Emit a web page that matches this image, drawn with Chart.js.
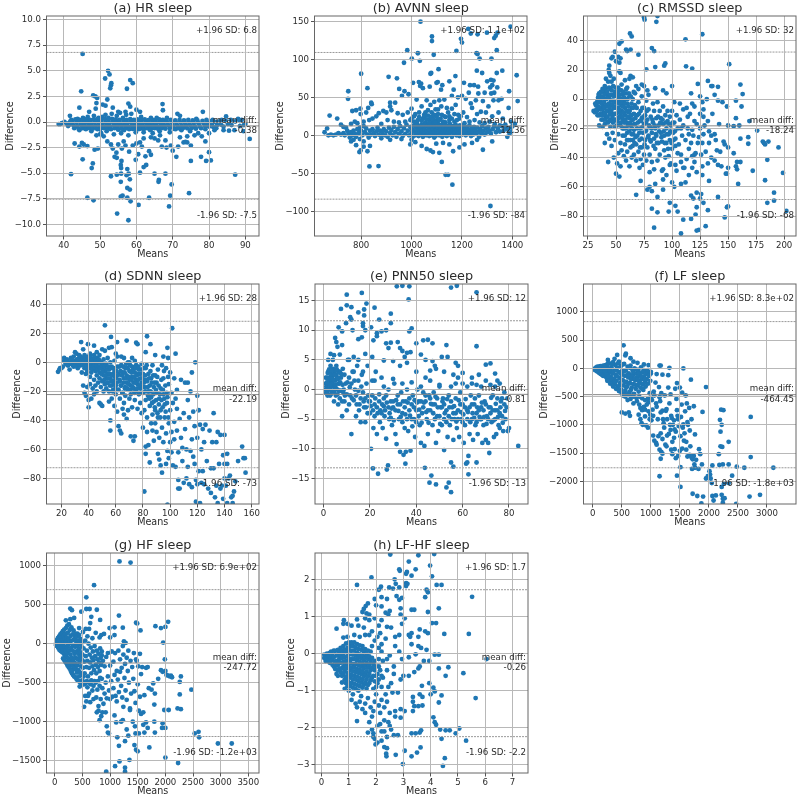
<!DOCTYPE html>
<html>
<head>
<meta charset="utf-8">
<title>Bland-Altman sleep</title>
<script src="https://cdn.jsdelivr.net/npm/chart.js@4"></script>
<style>
html, body { margin: 0; padding: 0; background: #fff; }
#wrap { position: relative; width: 800px; height: 798px; overflow: hidden; }
canvas { position: absolute; }
</style>
</head>
<body>
<div id="wrap"></div>
<script>
// ========== DATA (means, difference) ==========
const hrPoints = [
[45.2,6.65],[52.2,5],[52.6,4.65],[51.4,4.25],[53.1,3.8],[53,3.6],[52.8,3.3],[44.8,3],[58.3,4.1],[59,3.8],[57.4,3.25],[48.1,2.6],[48.7,2.5],[49.2,2.35],[52,2.2],[49,1.85],[50.7,1.7],[51.5,1.6],[57.8,1.8],[58.3,1.5],[67.2,1.75],[67.3,1.15],[44.3,1.4],[48.8,1.3],[53.5,1.4],[60,1.2],[61,1],[47,1],[55,1],[57,1],[41.7,.6],[78.3,1],[84.7,.55],[71.3,.8],[72,.6],[38.6,-.2],[39,-.2],[39.5,-.1],[40.2,0],
[42,-5.1],[43,-2.1],[44.3,-2.4],[45,-2.05],[45.5,-2.2],[46.5,-2.35],[48.5,-2.7],[49.4,-2.6],[45.2,-3.65],[48,-4.05],[47.7,-4.5],[46.5,-7.4],[48.2,-7.65],[53,-5.3],[54.6,-5.15],[55.7,-4.2],[55.8,-4.5],[55.8,-5.05],[55.7,-5.85],[54,-3.4],[54.5,-3],[54.6,-3.5],[55.9,-3.8],[57.3,-5.2],[57.5,-4.6],[57.9,-5.05],[58.2,-5.6],[57.5,-6.45],[58.2,-6.6],[57.5,-7.4],[55.7,-7.3],[56.2,-7.2],[58.4,-7.75],[54.7,-8.95],[57.8,-9.6],[60.6,-8.1],[63.5,-7.4],[61,-4.95],[62,-4.4],[62.7,-4.2],[64,-3.2],[63.5,-2.85],[62.5,-3.35],[60.5,-3.15],[59.8,-3.7],[65,-5.05],[66.2,-5.65],[66.1,-5.85],[68,-5.05],[69.7,-6.1],[69.3,-7.2],[69,-8.25],[74.5,-6.95],[75,-3.8],[77.8,-3.4],[79.2,-3.8],[80,-2.95],[80.5,-3.75],[87.2,-5.15],[71,-3.4],[70,-2.8],[68.3,-2.5],[69.5,-2.3],[71.5,-2.4],[73,-2],[74,-2],[75,-2.3],[73.5,-1.95],[91.2,-1.65],[89.5,-.9],[85.5,-.85],[87,-.8],[84,-.8],[81.5,-.8],
[53,-2.2],[52,-1.9],[51,-1.4],[50,-1.2],[49,-1.3],[53.5,-2.6],[56,-2.6],[57,-2.3],[58,-2.9],[59,-2.3],[55,-2.2],[56.5,-1.9],[60,-2.1],[61.5,-2.4],[61,-2],[62,-1.6],[64,-1.5],[65,-1.6],[66,-1.8],[67,-2.4],[68,-1.8],[66.5,-1.3],[64.5,-1.1],[72,-1.5],[74,-1.4],[76,-1.3],[78,-1.4],[79,-1.9],[77,-1.1],[80,-1.1],[82,-.6],
[41.5,-.1],[42.3,.1],[43.8,.3],[44.3,-.8],[45.3,.4],[45.6,-.6],[46.6,.5],[47.6,-.9],[48.3,.6],[49.3,-.7],[49.6,.4],[50.3,-1.1],[50.6,.5],[51.5,.7],[51.8,-.9],[52.3,.4],[53.2,.8],[53.8,-1.2],[54.6,.6],[55,-.7],[55.5,.9],[55.8,-1.1],[56.3,.4],[56.6,-.8],[57.2,.7],[57.8,-1.3],[58.6,.8],[59,-.6],[59.8,-1],[60.6,-.7],[61.3,.5],[62,-1],[63.8,-.8],[64,.4],[65.6,.4],[66.4,-.9],[68.4,.4],[69.2,-1],[70.8,-.7],[72.4,-.8],[74.8,-.9],[76.5,.3],[79,-.7],[81,.2],[83.5,.2],[86,.2],[88,.3],[88.5,-.4],[89,.2],[90,-.2]
];
const hrBand = [
[42.1,.2],[42.4,-.1],[42.7,-.35],[42.9,-.6],[43.2,.25],[43.5,-.05],[43.7,-.4],[44.1,-.65],[44.3,.2],[44.6,-.1],[44.8,-.3],[45.1,-.6],[45.3,.22],[45.6,-.08],[45.8,-.38],[46.1,-.7],[46.3,.28],[46.5,-.02],[46.8,-.33],[47,-.6],[47.3,.2],[47.5,-.1],[47.8,-.4],[48,-.65],[48.3,.25],[48.5,-.05],[48.8,-.35],[49,-.62],[49.3,.3],[49.5,0],[49.8,-.3],[50,-.7],[50.3,.2],[50.5,-.1],[50.8,-.4],[51,-.6],[51.3,.3],[51.5,-.05],[51.8,-.35],[52,-.65],[52.3,.22],[52.5,-.1],[52.8,-.42],[53,-.7],[53.3,.3],[53.5,0],[53.8,-.3],[54,-.6],[54.3,.25],[54.5,-.05],[54.8,-.4],[55,-.75],[55.3,.2],[55.5,-.1],[55.8,-.35],[56,-.65],[56.3,.3],[56.5,0],[56.8,-.3],[57,-.6],[57.3,.2],[57.5,-.1],[57.8,-.42],[58,-.7],[58.3,.28],[58.5,-.02],[58.8,-.33],[59,-.68],[59.3,.2],[59.5,-.1],[59.8,-.4],[60,-.62],[60.3,.25],[60.5,-.05],[60.8,-.35],[61,-.65],[61.3,.2],[61.5,-.12],[61.8,-.4],[62,-.7],[62.3,.25],[62.5,-.05],[62.8,-.35],[63,-.6],[63.3,.18],[63.5,-.1],[63.8,-.38],[64,-.66],[64.3,.22],[64.5,-.08],[64.8,-.35],[65,-.6],[65.3,.2],[65.5,-.1],[65.8,-.42],[66,-.68],[66.3,.25],[66.5,-.05],[66.8,-.3],[67,-.6],[67.3,.2],[67.5,-.1],[67.8,-.4],[68,-.65],[68.3,.15],[68.6,-.1],[68.9,-.35],[69.2,-.6],[69.5,.2],[69.8,-.05],[70.1,-.4],[70.4,-.66],[70.7,.15],[71,-.1],[71.3,-.35],[71.6,-.6],[71.9,.2],[72.2,-.08],[72.5,-.4],[72.8,-.6],[73.1,.15],[73.4,-.12],[73.7,-.38],[74,-.62],[74.3,.2],[74.6,-.1],[74.9,-.35],[75.2,-.6],[75.5,.15],[75.8,-.1],[76.1,-.42],[76.4,-.65],[76.8,.15],[77.1,-.12],[77.4,-.4],[77.8,-.6],[78.2,.1],[78.5,-.15],[78.9,-.4],[79.3,.2],[79.6,-.1],[80,-.45],[80.4,.05],[80.8,-.2],[81.2,-.5],[81.7,0],[82.2,-.3],[82.8,.05],[83.3,-.25],[84,-.45],[84.6,.1],[85.2,-.2],[86.2,-.3],[87.2,.05],[88.5,.1],[89.6,-.3],[40.8,-.15],[41.2,-.4],[41.8,.05],[41.6,-.25]
];
const avnnPoints = [
[1035.5,149.5],[1225,140],[1393,143],[1081,130],[1081,124],[1196,127],[1200,122],[1235,134],[1262,133],[1299,135],[1328,128],[1334,131],[1341,135],[983,112],[1025,108],[1178,111],[1258,108],[1262,107],[1338,112],[1088,106],[970,95.5],[1001,101],[1033,98],[1270,101],[1317,101],[1107,87],[800,81],[1078,82],[1075,81],[1259,85],[1280,82],[1338,82],[1360,85],[1417,79],[909,77],[942,75],[1174,78],[749,58],[748,48],[825,62],[1421,45],[1387,58],[951,61],[972,58],[1150,71],[1104,70],[1099,69],[1006,69],[1029,70],[1038,68],[1034,65],[1045,62],[1072,64],[1122,66],[1117,60],[1167,60],[1208,69],[1232,66],[1248,66],[1264,64],[1300,71],[1315,73],[1320,66],[1325,72],[1312,63],[1340,63],[1328,56],[1316,55],[1290,56],[1265,55],[1227,56],[1200,52],[1215,48],[1184,50],[1160,52],[1130,47],[1110,46],[1090,44],[1060,46],[1020,47],[988,54],[962,52],[935,43],[915,43],[1345,46],[1357,48],[1325,46],[1283,45],[1255,46],[1235,42],
[765,32],[780,33],[797,35],[828,36],[840,43],[842,41],[820,30],[798,28],[775,18],[740,10],[720,14],[675,26],[705,22],[730,11],[760,15],[785,16],[810,18],[832,20],[845,22],[860,25],[870,29],[888,32],[900,30],[915,38],[920,33],[945,29],[965,27],[985,30],[1000,35],[1015,28],[1030,30],[1040,38],[1050,27],[1065,33],[1075,40],[1085,25],[1095,34],[1105,28],[1118,38],[1130,25],[1145,30],[1160,35],[1175,40],[1185,27],[1205,30],[1220,24],[1240,36],[1260,28],[1275,31],[1295,30],[1305,38],[1320,25],[1345,30],[1362,22],[1385,36],[1395,18],[1410,15],
[905,20],[880,15],[930,18],[950,17],[975,18],[995,20],[1010,18],[1025,20],[1045,22],[1055,17],[1070,20],[1085,17],[1100,19],[1115,22],[1135,17],[1150,20],[1170,18],[1190,22],[1210,16],[1230,18],[1250,20],[1270,17],[1290,16],[1310,18],[1330,15],[1350,13],[1375,10],[1400,12],
[833,-41],[869,-40.5],[793,-22],[825,-21],[798,-20],[780,-13],[760,-8],[770,-6],[810,-15],[835,-14],[1120,-35],[1110,-23],[1060,-18],[1075,-20],[1085,-22],[1040,-14],[1135,-52],[1145,-52],[1162,-65],[1165,-21],[1190,-16],[1283,-19],[1313,-93],[1210,-12],[1240,-10],[1150,-12],[1125,-10],[1098,-11],[995,-12],[1015,-9],[1000,-6],[960,-5],[915,-6],[880,-4],[1320,-8],[1260,-6],[1380,-2],[1395,4],[655,4],[665,9],[670,0],[795,-5],[810,-8],[1090,-3]
];
const avnnBand = [
[680,1],[690,0],[700,1],[710,3],[720,1],[730,3],[735,0],[745,6],[750,2],[755,-3],[760,4],[765,0],[770,6],[775,2],[780,-2],[785,8],[790,3],[795,10],[800,6],[805,0],[810,12],[815,4],[820,9],[825,1],[830,-3],[835,6],[840,1],[845,8],[850,3],[855,-1],[860,5],[865,10],[870,1],[875,6],[880,-1],[885,3],[890,8],[895,0],[900,5],[905,-2],[910,10],[915,3],[920,7],[925,0],[930,11],[935,4],[940,-2],[945,8],[950,2],[955,12],[960,5],[965,-1],[970,9],[975,2],[980,14],[985,6],[990,0],[995,11],[1000,3],[1002,8],[1005,-2],[1010,13],[1012,5],[1015,0],[1018,10],[1020,3],[1022,15],[1025,7],[1028,-1],[1030,12],[1032,4],[1035,9],[1038,1],[1040,14],[1042,6],[1045,-2],[1048,11],[1050,3],[1052,8],[1055,16],[1058,0],[1060,5],[1062,12],[1065,2],[1068,9],[1070,-1],[1072,14],[1075,6],[1078,3],[1080,11],[1082,0],[1085,8],[1088,16],[1090,4],[1092,12],[1095,-1],[1098,7],[1100,2],[1102,10],[1105,15],[1108,5],[1110,0],[1112,12],[1115,8],[1118,3],[1120,14],[1122,-2],[1125,6],[1128,10],[1130,1],[1132,13],[1135,5],[1138,9],[1140,-1],[1142,3],[1145,12],[1148,7],[1150,1],[1152,15],[1155,4],[1158,10],[1160,-2],[1162,6],[1165,12],[1168,2],[1170,9],[1172,4],[1175,14],[1178,0],[1180,7],[1182,11],[1185,3],[1188,8],[1190,-1],[1192,13],[1195,5],[1198,10],[1200,1],[1203,7],[1206,12],[1209,3],[1212,9],[1215,0],[1218,5],[1221,11],[1224,2],[1227,7],[1230,13],[1233,4],[1236,-1],[1239,9],[1242,5],[1245,1],[1248,11],[1252,6],[1256,2],[1260,10],[1264,4],[1268,-2],[1272,8],[1276,3],[1280,12],[1285,6],[1290,1],[1295,9],[1300,4],[1305,11],[1310,6],[1315,2],[1322,8],[1328,12],[1335,4],[1342,9],[1350,5],[1358,12],[1365,6],[1372,14],[1380,8],[1388,3],[1395,10],
[1000,22],[1010,25],[1020,16],[1030,24],[1040,19],[1050,24],[1055,30],[1060,21],[1065,26],[1070,16],[1075,24],[1080,30],[1085,21],[1090,27],[1095,17],[1100,24],[1105,34],[1110,20],[1120,27],[1125,18],[1135,24],[1140,36],[1150,25],[1160,22],[1170,28],[1180,20],[1195,25]
];
const rmssdPoints = [
[75,56],[75.5,54.5],[87,57],[86,53],[62.5,45],[64,43],[112,41],[127,44.5],[53,38],[55,39.5],[49,32.5],[59,34],[60,33],[63,34],[82,35],[84,33],[70,30.5],[46,28],[47,29],[52,29],[54,28],[50,26],[53,25],[43.5,20],[44,23],[44,18],[45,16],[53,19],[54,18],[77,20.5],[85,22],[93,23],[94,24.5],[112.5,22.5],[118,21],[151,24],[123,10.5],[132,12.5],[135,9],[136,9],[141,8.5],[161,10],[163,3.5],[100,9],[85,7.5],[73,10],[75,9],[63,16],[62,14],[65,15],[58,13],[55,10],[48,14],[41,14],[43,12],[46,12],[40,9],[38,7],[52,8],[60,8],[68,9],[78,6],[92,6],[95,4],[117,4],[125,2],[138,3],[131,0],[127,-2],[141,-1],[145,-2],[149,-5],[157,-1],[162,-5],
[150,-18],[155,-18.5],[157,-13],[160,-18],[169,-15],[176,-21.5],[168,-26],[168,-30.5],[161,-27],[181,-29],[182,-30],[183,-31],[186,-29],[195,-33],[185,-41.5],[172,-49],[183,-55.5],[199,-50.5],[191,-64],[191,-69.5],[185,-71],[202,-76.5],[147,-81],[149,-74],[150,-73.5],[159,-58],[158,-48],[157,-46],[158,-43],[161,-43],[150,-47],[149,-51],[148,-51],[144,-46],[141,-45],[138,-42],[141,-67],[132,-76],[130,-87],[122,-90],[124,-89.5],[108,-92],[110,-82.5],[117,-82],[121,-79],[122,-74],[84,-88],[82,-75],[87,-77.5],[97,-77],[98,-71],[105,-77],[103,-73],[128,-71],[125,-68],[122,-64],[126,-65],[117,-66],[119,-68],[133,-56],[127,-52],[122,-50],[115,-52],[112,-57],[108,-58],[102,-60],[100,-57],[92,-55],[85,-58],[80,-60],[78,-62],[82,-63],[68,-65.5],[72,-56],[87,-67],[92,-62],[80,-50],[84,-48],[92,-48],[95,-52],[98,-45],[103,-45],[110,-47],[118,-47],[127,-46],[132,-44],[135,-40],[143,-36],[147,-31],[150,-33],[155,-37],[146,-29],[139,-28],[133,-30],[128,-24],[124,-26],[120,-38],[115,-34],[138,-24],[142,-17],[132,-15],[128,-12],[136,-10],[128,-7],[118,-3],[110,-7],[114,-12],[120,-15],[125,-20],[118,-21],[108,-20],[103,-32],[105,-37],[108,-43],[113,-41],[120,-43],
[30,-8],[31,-9],[32,-4],[33,-2],[33,-8],[34,1],[34,-5],[35,4],[35,-11],[35,-18],[36,-1],[36,-7],[37,2],[37,-14],[38,-4],[38,-19],[39,5],[39,-9],[40,0],[40,-17],[40,-30],[41,-5],[41,-12],[42,3],[42,-24],[43,-8],[43,-43],[44,1],[44,-15],[44,-27],[45,7],[45,-4],[45,-19],[46,-10],[46,-32],[47,3],[47,-1],[47,-23],[48,-6],[48,-14],[48,-40],[49,5],[49,-19],[49,-28],[50,-2],[50,-51],[50,-10],[51,2],[51,-15],[51,-44],[52,-6],[52,-24],[52,-37],[53,6],[53,-1],[53,-12],[53,-53],[54,-18],[54,-30],[54,-46],[55,-4],[55,-8],[55,-35],[56,3],[56,-14],[56,-25],[57,-1],[57,-20],[57,-39],[58,-6],[58,-11],[58,-31],[59,4],[59,-16],[59,-42],[60,-3],[60,-23],[60,-36],[61,-9],[61,-28],[62,2],[62,-13],[62,-46],[63,-18],[63,-33],[64,-6],[64,-24],[64,-40],[65,0],[65,-14],[65,-28],[66,-10],[66,-21],[66,-38],[67,4],[67,-5],[67,-17],[68,-31],[68,-42],[69,-11],[69,-25],[70,7],[70,-2],[70,-36],[71,-15],[71,-28],[71,-47],[72,-8],[72,-20],[72,-41],[73,2],[73,-13],[73,-33],[74,-23],[74,-45],[75,-6],[75,-17],[75,-38],[76,-28],[76,-11],[77,-1],[77,-21],[77,-42],[78,-33],[78,-14],[79,3],[79,-7],[79,-25],[80,-19],[80,-38],[81,-12],[81,-29],[82,-23],[82,-43],[83,-3],[83,-16],[84,-27],[84,-8],[85,-34],[85,-20],[86,-13],[86,-25],[87,-42],[87,-2],[88,-18],[88,-30],[89,-8],[89,-38],[90,-23],[90,-13],[91,-49],[91,-29],[92,-17],[92,-5],[93,-35],[93,-25],[94,-11],[94,-40],[95,-20],[95,-30],[96,-15],[96,-8],[97,-39],[97,-24],[98,-28],[98,-12],[99,-18],[99,-44],[100,-8],[100,-34],[101,-23],[102,-16],[102,-2],[103,-27],[104,-11],[104,-49],[105,-20],[106,-31],[107,-3],[107,-14],[108,-38],[109,-25],[110,-18],[111,-47],[112,-28],[113,-6],[114,-20],[115,-24],[116,-10],[117,-30],[118,-39],[119,-25],[120,-5],[121,-37],[122,-17],[123,-30],[125,-10],[126,-38],[127,-30],[129,-18],[130,-36],[133,-22],[135,-25],[140,-35]
];
const rmssdBand = [
[31.5,-3],[32.5,-7],[33.5,-11],[34.5,3],[34.7,-2],[35.5,-6],[35.8,0],[36.2,-10],[36.5,5],[37.2,-3],[37.5,-7],[37.8,-11],[38.2,1],[38.5,6],[38.7,-14],[39.2,-2],[39.5,-6],[39.8,3],[40.2,-10],[40.5,-14],[40.8,7],[41.2,0],[41.5,-4],[41.8,-8],[42.2,5],[42.5,-12],[42.8,-16],[43.2,1],[43.5,-3],[43.8,8],[44.2,-6],[44.5,-10],[44.8,-14],[45.2,3],[45.5,-1],[45.8,-8],[46.2,6],[46.5,-4],[46.8,-12],[47.2,-16],[47.5,9],[47.8,-6],[48.2,2],[48.5,-2],[48.8,-10],[49.2,-5],[49.5,8],[49.8,-14],[50.2,3],[50.5,-6],[50.8,-18],[51.2,-2],[51.5,5],[51.8,-9],[52.2,1],[52.5,-13],[52.8,-3],[53.2,-7],[53.5,3],[53.8,-16],[54.2,-10],[54.5,0],[54.8,6],[55.2,-2],[55.5,-12],[55.8,-20],[56.2,-5],[56.5,5],[56.8,-9],[57.2,-16],[57.5,1],[57.8,-25],[58.2,-3],[58.5,-14],[58.8,-20],[59.2,7],[59.5,-8],[59.8,-28],[60.2,0],[60.5,-12],[60.8,-18],[61.2,-5],[61.5,4],[61.8,-22],[62.2,-8],[62.5,-16],[62.8,-28],[63.2,2],[63.5,-11],[63.8,-3],[64.2,-20],[64.5,-14],[64.8,-32],[65.2,-6],[65.5,-24],[65.8,5],[66.2,-17],[66.5,-30],[66.8,-4],[67.2,-13],[67.5,-26],[68.5,-6],[68.8,-20],[69.5,-16],[70.5,-10],[70.8,-23],[71.5,-33],[72.5,-15],[72.8,-27],[73.5,-6],[73.8,-19],[74.5,-12],[75.5,-31],[76.5,-22],[76.8,-16],[77.5,-8],[78.5,-26],[79.5,-18],[80.5,-28],[81.5,-20],[82.5,-14],[83.5,-32],[84.5,-18],[85.5,-24],[86.5,-30],[87.5,-12],[88.5,-22],[89.5,-16],[90.5,-26],[91.5,-14],[92.5,-22],[93.5,-30],[94.5,-16],[95.5,-24],[96.5,-34],[97.5,-17],[98.5,-22],[99.5,-30],[100.5,-16],[101.5,-28],[102.5,-22]
];
const sdnnPoints = [
[52,25.5],[101.5,23.5],[83,18],[56.5,17.5],[34.5,14],[61,14],[68,15],[75,13.5],[76,12.5],[85.5,12.5],[39.5,12.5],[44,11.5],[57,10.5],[55,10],[98,10],[104,6],[82,7],[89,5],[95,4],[98.5,3],[118.5,0],[46,7],[50,9],[52,8],[60,6],[36,9],[30,7],[33,5],[41,6],[48,5],[64,4],[72,3],[74,1],[66,3],[70,0],
[17.5,-6.5],[18.5,-5],[19,-4],[20,-4],[21,-3],[22,1],[22,3],[23,-1],[24,2],[25,-2],[25,0],[26,-5],[27,3],[27,-1],[28,1],[29,4],[29,-3],[30,0],[31,6],[31,-2],[32,2],[32,-4],[33,0],[34,4],[34,-2],[35,1],[35,-7],[36,3],[36,-1],[36,-16],[37,-4],[37,5],[37,-21],[38,0],[38,-23],[38,-8],[39,2],[39,-6],[39,-17],[40,-2],[40,-26],[40,-31],[41,4],[41,-10],[41,-15],[42,0],[42,-25],[42,-7],[43,-3],[43,2],[43,-18],[44,-12],[44,5],[44,-22],[45,-1],[45,-6],[45,-16],[46,3],[46,-9],[46,-20],[47,-3],[47,-14],[47,1],[48,-28],[48,-7],[48,-11],[49,0],[49,-17],[49,-29],[50,-4],[50,-13],[50,-30],[51,2],[51,-9],[51,-20],[52,-6],[52,-15],[53,-1],[53,-11],[53,-18],[54,3],[54,-8],[54,-14],[55,-27],[55,-5],[55,-20],[56,-40],[56,-47],[56,-11],[56,0],[57,-16],[57,-3],[57,-25],[58,-8],[58,-19],[58,-13],[59,1],[59,-6],[59,-30],[60,-11],[60,-16],[60,-22],[61,4],[61,-3],[61,-34],[62,-8],[62,-19],[62,-44],[63,-13],[63,-25],[63,-47],[64,-2],[64,-49],[64,-16],[65,-7],[65,-21],[65,-32],[66,-11],[66,-28],[66,-36],[67,-4],[67,-17],[67,-23],[68,-9],[68,-14],[68,-39],[69,0],[69,-19],[69,-33],[70,-6],[70,-25],[70,-12],[71,-51],[71,-16],[71,-22],[72,-3],[72,-10],[72,-31],[73,-54],[73,-18],[73,-14],[74,-51],[74,-7],[74,-26],[75,-2],[75,-12],[75,-20],[76,-15],[76,-8],[76,-32],[77,-22],[77,-5],[78,-11],[78,-18],[78,-28],[79,-1],[79,-14],[79,-35],[80,-8],[80,-21],[80,-45],[81,-12],[81,-17],[81,-33],[81,-89],[82,-4],[82,-26],[82,-58],[82,-63],[83,-13],[83,-38],[83,-48],[84,-20],[84,-8],[84,-57],[85,-16],[85,-30],[85,-69],[86,-11],[86,-42],[86,-24],[87,-2],[87,-36],[87,-47],[88,-17],[88,-27],[88,-54],[89,-9],[89,-33],[89,-42],[90,-21],[90,-48],[90,-14],[91,-5],[91,-38],[91,-63],[92,-25],[92,-52],[92,-67],[93,-18],[93,-33],[93,-71],[94,-2],[94,-45],[94,-76],[95,-22],[95,-11],[95,-55],[96,-38],[96,-29],[97,-4],[97,-49],[97,-70],[98,-24],[98,-61],[98,-98],[99,-15],[99,-42],[99,-66],[100,-7],[100,-33],[100,-55],[101,-21],[101,-48],[101,-62],[102,-28],[102,-71],[103,-11],[103,-41],[103,-53],[104,-25],[104,-72],[105,-19],[105,-47],[105,-32],[106,-81],[106,-87],[106,-62],[107,-39],[107,-87],[108,-52],[108,-12],[109,-59],[109,-68],[110,-35],[110,-83],[111,-14],[111,-46],[112,-60],[112,-80],[113,-14],[113,-26],[113,-72],[114,-38],[114,-84],[115,-61],[115,-20],[116,-7],[116,-53],[116,-86],[117,-34],[117,-65],[118,-44],[118,-70],[119,-81],[119,-96],[120,-23],[120,-52],[120,-84],[121,-75],[121,-33],[122,-43],[122,-97],[123,-60],[123,-83],[124,-46],[124,-75],[125,-55],[125,-84],[126,-43],[127,-68],[128,-87],[129,-47],[130,-73],[130,-90],[131,-55],[132,-35],[132,-73],[133,-93],[134,-55],[134,-85],[135,-48],[135,-97],[136,-70],[137,-50],[137,-87],[138,-85],[139,-64],[139,-94],[140,-50],[140,-70],[140,-80],[141,-85],[142,-63],[142,-70],[143,-80],[144,-78],[145,-93],[146,-92],[147,-89],[148,-82],[150,-68],[153,-58],[154,-66],[155,-66],[155.5,-76],[142,-97],[146,-97]
];
const sdnnBand = [
[23.5,1],[24.5,-2],[26.5,0],[27.5,2],[28.5,-2],[29.5,1],[30.5,-2],[31.5,2],[32.5,-1],[33.5,4],[33.7,-2],[34.5,1],[35.5,3],[35.7,-2],[36.5,1],[37.5,-1],[37.7,3],[38.5,1],[38.7,-3],[39.5,4],[39.7,-1],[40.5,1],[40.7,-4],[41.5,3],[41.7,-2],[42.5,2],[42.7,-5],[43.5,0],[43.7,-3],[44.5,3],[44.7,-4],[45.5,1],[45.7,-2],[46.5,-5],[46.7,0],[47.5,2],[47.7,-3],[48.5,0],[48.7,-4],[49.5,-8],[49.7,-2],[50.5,-6],[50.7,-1],[51.5,-12],[51.7,-3],[52.5,-9],[52.7,-1],[53.5,-5],[53.7,-14],[54.5,-3],[54.7,-11],[55.5,-8],[55.7,-16],[56.5,-4],[56.7,-13],[57.5,-9],[57.7,-20],[58.5,-4],[58.7,-15],[59.5,-10],[59.7,-18],[60.5,-6],[60.7,-14],[61.5,-9],[61.7,-19],[62.5,-3],[62.7,-12],[63.5,-6],[63.7,-16],[64.5,-9],[64.7,-21],[65.5,-3],[65.7,-14],[66.5,-7],[66.7,-18],[67.5,-11],[67.7,-1],[68.5,-18],[68.7,-4],[69.5,-10],[69.7,-15],[70.5,-2],[70.7,-19],[71.5,-7],[71.7,-12],[72.5,-17],[72.7,-5],[73.5,-10],[73.7,-21],[74.5,-14],[74.7,-4],[75.5,-9],[75.7,-18],[76.5,-12],[76.7,-3],[77.5,-16],[77.7,-8],[78.5,-21],[78.7,-5],[79.5,-11],[79.7,-17],[80.5,-4],[80.7,-14],[81.5,-9],[81.7,-20],[82.5,-12],[82.7,-2],[83.5,-17],[83.7,-23],[84.5,-11],[84.7,-25],[85.5,-6],[85.7,-20],[86.5,-14],[86.7,-28],[87.5,-9],[87.7,-22],[88.5,-14],[88.7,-31],[89.5,-19],[89.7,-26],[90.5,-10],[90.7,-35],[91.5,-16],[91.7,-29],[92.5,-22],[92.7,-38],[93.5,-12],[93.7,-26],[94.5,-31],[94.7,-19],[95.5,-6],[95.7,-25],[96.5,-16],[96.7,-34],[97.5,-21],[97.7,-28],[98.5,-10],[98.7,-38]
];
const pnn50Points = [
[16.5,16.3],[10,16],[7.5,13.6],[10,14.2],[12,13.9],[15,13],[17.5,13.5],[18.5,14.5],[22,13.8],[17.5,12.5],[11.5,12.2],[12,11.8],[9.7,11.2],[17,11.2],[17,10.7],[24,11.8],[29,12.8],[29,11.2],[20.5,10.5],[6.5,10.5],[8,9.8],[12.5,10],[18,10],[23,9.5],[25,9.8],[27,10],[38,10.3],[37,9.8],[31.6,17.4],[34,17.5],[37,17.4],[36.7,15.2],[55,17.2],[57.5,17.5],[66,16.4],[5,8.7],[5.5,8],[6,7.2],[8,7.5],[15,8.5],[16.5,8.8],[21.5,8.3],[23,9],[32,8],[27,7.8],[28,7],[29,7.9],[36,6.2],[40,7.8],[43,8.3],[45,8.4],[47,7.8],[53,7.5],[66,7.3],[33,7],[34,6.5],[35,5.5],[37.5,6.3],[42,5.9],[53.5,5.5],[51,5.5],[2,5],[3,6],[4.5,5.8],[7,5.9],[11,5],[13,5.5],[15,5],[18,6],[21,5.5],[26,4.9],[30,4.8],[33,4],[36,4.5],[40,3],[44,5],[47,4.8],[48,4],[57,4.5],[58,4],[70,4.2],[72,4.4],
[1,2],[1.2,.5],[1.5,-.5],[1.8,1],[2,3],[2.2,0],[2.5,2],[2.8,-1],[3,4],[3.2,1.5],[3.5,-.3],[3.8,2.5],[4,5],[4.2,.8],[4.5,-2],[4.7,3],[5,1.5],[5.3,-1],[5.5,4],[5.8,2],[6,0],[6.3,-2.5],[6.5,3],[6.8,1],[7,-1.5],[7.5,2],[8,-4.5],[8.3,3.5],[8.7,0],[9,-2],[9.5,1],[10,-3.5],[10.5,5],[11,2],[11.5,-1],[12,-7.5],[12.5,3],[13,-1.8],[13.5,0],[14,-4.5],[14.5,4],[15,1.5],[15.5,-2.5],[16,-5.5],[16.5,2.5],[17,-.5],[17.5,-3],[18,-5.5],[18.5,1],[19,4],[19.5,-2],[20,-4],[20.5,-10],[21,1.5],[21.5,-6.5],[21.3,-13.3],[22,-2.5],[22.5,3],[23,-7.5],[23.5,-14.2],[24,-.8],[24.5,-3.5],[25,2],[25.5,-6.5],[26,-1.5],[26.5,-3.5],[27,-8.3],[27.3,-13.5],[27.8,-12.8],[28,0],[28.5,-4],[29,-2],[29.5,-6],[30,-3],[30.5,1],[31,-7.5],[31.5,-9.2],[32,-2.5],[32.5,-5],[33,-10.5],[33.5,-.5],[34,-4],[34.5,-11],[35,-6.5],[35.5,-10.5],[35.5,-2],[36,0],[36.5,-7],[37,-3.5],[37.5,-10.3],[38,-5],[38.5,-1],[35.3,-12.5],[39,-3],[39.5,-8],[40,-5.5],[40.5,0],[41,-2],[41.5,-6],[42,-9],[42.5,-4],[43,-.5],[43.5,-9.5],[43.7,-13.2],[44,-2],[44.5,-5],[45,-7.5],[45.5,-1],[45.7,-15.7],[46,-3.5],[46.5,-14.5],[47,-6],[47.5,-.5],[48,-2.5],[48.5,-16],[48.5,-9],[49,-4.5],[49.5,-7],[50,.5],[50.5,-3],[51,-6],[51.5,-1.5],[52,-10.2],[52,-5],[53,-16.5],[53,-3.5],[53.5,-8],[54,-15.7],[54,-1],[54.5,-6],[55,-17.3],[55,-12.3],[55.5,-3],[56,-13],[56,-8.5],[56.5,-5],[57,-1.5],[57.5,-6.5],[58,-3.5],[58.5,-8],[59,-.5],[59.5,-5],[60,-2.5],[60.5,-9],[61,-6],[61.5,-12.5],[62,-12.3],[62,-3.5],[62.5,-11.2],[62.5,-14.3],[63,-7.5],[63.5,-1],[64,-5],[64.5,-8.5],[65,-2.5],[65.5,-6],[66,-12.3],[66,-4],[66.5,-7.5],[67,-1],[67.5,-5],[68,-3],[68.5,-9],[69,-6],[69.5,-2],[70,-8.5],[70.5,-4.5],[71,-9],[71.5,-10.7],[72,-3],[72.5,-5.5],[73,-1],[73.5,-8],[74,-3.5],[74.5,-7.5],[75,-1.5],[75.5,-6],[76,-4],[76.5,-2],[77,-4.5],[77.5,-7],[78,-2.5],[78.5,-5],[79,-3],[79.5,-7],[80,-6.5],[84,-9.5]
];
const pnn50Band = [
[.8,0],[1,1],[1.3,-.2],[1.5,2],[1.8,2.8],[2.3,1],[2.6,.2],[2.9,3],[3.3,2.4],[3.6,.5],[3.9,1],[4.1,3.5],[4.4,2.5],[4.7,.4],[5,3.2],[5.4,.2],[5.6,2.5],[6,-.8],[6.4,1],[7,3],[7.5,-.2],[8,-2],[8.5,-.5],[9,2.5],[10,-.8],[11,-2.5],[12,1],[13,3],[14,-1],[15,-.2],[16,-1.5],[17,3],[18,-1.5],[19,-4],[20,-2],[21,-1],[22,-4.5],[23,-3],[24,-2],[25,-4],[26,-2.8],[27,-1],[28,-3],[29,-4.8],[30,-2],[31,-3.5],[32,-1],[33,-2.5],[34,-5.5],[35,-3],[36,-5],[37,-1.5],[38,-2.5],[39,-5],[40,-3.5],[41,-4.5],[42,-2],[43,-3],[44,-1],[45,-3.5],[46,-1.5],[47,-2.5],[48,-5],[49,-1.5],[50,-4.5],[51,-3],[52,-2.5],[53,-5.5],[54,-4.5],[55,-2],[56,-4],[57,-4],[58,-5],[59,-2.5],[60,-5.5],[61,-3],[62,-5],[63,-3],[64,-2.5],[65,-4.8],[66,-5.5],[67,-3.5],[68,-5],[69,-3.5],[70,-2.5],[71,-5],[72,-4],[73,-3.5],[74,-5],[75,-3.5],[76,-6.5],[77,-1.5],[78,-.5],[60,1],[62,.5],[64,1],[66,.8],[68,.5],[70,1.5],[72,.8],[74,.5],[76,1],[55,.5],[57,1],[50,.8],[46,1.5],[44,2],[42,.5],[38,1.2],[34,1],[30,1.8],[26,.5],[22,1.5],[46,3.2],[48.5,3.5],[52,3],[56,2.5],[58,2],[60,2.8],[64,2],[67,2.5],[74,2.7],[75,1.5],
[1.1,-.6],[1.4,1.2],[1.7,-1],[2.1,1.8],[2.4,3.4],[2.7,.8],[3.1,-.8],[3.4,3.2],[3.7,1.8],[4.3,1.6],[4.6,-.4],[4.9,2.4],[5.2,.8],[5.7,3.4],[6.2,1.8],[6.7,-.2],[7.2,1.2],[7.7,2.6],[8.2,.8],[9.2,-1],[10.3,1.2],[11.3,.4],[12.3,-1.5],[13.3,1.5],[14.3,-2.5],[15.3,-3.5],[16.3,.5],[17.3,-2],[18.3,-3],[19.3,-1],[20.3,-2.8],[21.3,-3.5],[22.3,-1.5],[23.3,-4],[24.3,-5.5],[25.3,-2.5],[26.3,-4.5],[27.3,-2.2],[28.3,-5],[29.3,-3.2],[30.3,-5.2],[31.3,-1.8],[32.3,-3.6],[33.3,-4.6],[34.3,-2],[35.3,-4.2],[36.3,-2.2],[37.3,-4.4],[38.3,-6.2],[39.3,-1.8],[40.3,-2.2],[41.3,-3.4],[42.3,-5.6],[43.3,-2.2],[44.3,-3.8],[45.3,-5.6],[46.3,-2.4],[47.3,-4],[48.3,-1.2],[49.3,-3],[50.3,-5.8],[51.3,-2],[52.3,-4],[53.3,-1.6],[54.3,-3],[55.3,-5],[56.3,-2.8],[57.3,-5.4],[58.3,-1.8],[59.3,-3.8],[60.3,-4.2],[61.3,-1.6],[62.3,-3.8],[63.3,-5.5],[64.3,-4],[65.3,-1.5],[66.3,-3],[67.3,-4.6],[68.3,-2.2],[69.3,-4.6],[70.3,-5.8],[71.3,-3],[72.3,-1.4],[73.3,-5.2],[74.3,-2.4],[75.3,-4.6],[76.3,-3],[77.3,-5.6],[78.3,-3.6],[79.3,-1.5]
];
const lfPoints = [
[530,410],[570,260],[560,230],[420,240],[375,170],[260,150],[650,180],[700,120],[770,100],[880,70],[960,60],[1150,50],[1170,50],[1320,10],[1560,0],[1690,-200],[1950,-330],[2720,-860],[2250,-740],[2210,-730],[1890,-770],[1450,-260],[1300,-120],[1200,-110],[1100,-100],[1000,-90],[950,-70],
[500,-780],[560,-800],[620,-780],[640,-840],[790,-820],[820,-900],[840,-970],[860,-1000],[900,-850],[920,-1010],[950,-1050],[980,-900],[1010,-920],[1040,-1190],[1060,-1280],[1090,-1320],[1100,-1350],[1130,-1200],[1170,-1150],[1200,-1250],[1230,-1050],[1250,-1350],[1280,-1190],[1310,-1160],[1340,-1090],[1370,-1300],[1400,-1230],[1430,-1120],[1150,-1440],[1180,-1480],[1200,-1510],[1170,-1600],[1270,-1380],[1350,-1440],[1370,-1520],[1410,-1430],[1470,-1550],[1430,-1590],[1540,-1420],[1500,-1460],[1570,-1280],[1610,-1440],[1680,-1380],[1630,-1560],[1740,-1550],[1830,-1430],[1670,-1530],[1700,-1580],[1720,-1610],[1780,-1620],[1850,-1520],[1880,-1700],[1750,-1700],[1710,-1780],[1760,-1760],[1820,-1780],[1510,-1750],[1150,-1910],[1450,-1900],[1510,-2100],[1720,-2220],[1800,-2260],[1870,-2390],[1900,-2270],[1950,-1950],[1980,-1910],[2010,-1820],[2030,-1950],[2050,-2030],[2020,-1880],[2060,-1720],[2180,-1710],[2240,-1700],[2340,-1700],[2480,-1740],[2610,-1760],[3110,-1760],[2720,-1570],[2340,-1300],[2200,-1380],[2230,-1390],[2170,-1520],[2190,-910],[2200,-1120],[2220,-1000],[2400,-1900],[2220,-2100],[2340,-2030],[2060,-2260],[2120,-2250],[2260,-2040],[2270,-2300],[2220,-2240],[2240,-2310],[2240,-2380],[2080,-2340],[2470,-2400],[2700,-2270],[2880,-2240],
[960,-600],[980,-440],[1000,-60],[1020,-560],[1040,-840],[1060,-480],[1080,-250],[1100,-680],[1120,-900],[1140,-330],[1160,-580],[1180,-440],[1200,-750],[1220,-970],[1240,-480],[1260,-750],[1280,-900],[1300,-340],[1320,-620],[1340,-460],[1360,-880],[1380,-1000],[1400,-920],[1420,-360],[1440,-540],[1460,-840],[1480,-1020],[1500,-340],[1520,-860],[1540,-430],[1560,-990],[1600,-480],[1640,-1000],[1660,-700],[1700,-900],[1740,-670],[1760,-1170],[1620,-620],[1580,-1150],[1000,-520],[1030,-730],[1050,-410],[1090,-620],[1150,-510],[1170,-780],[1210,-900],[1270,-720],[1330,-1000],[1350,-840],[1410,-1080],[1450,-740],[1470,-900],[1510,-1200],[1530,-640],[1550,-1050],[1590,-760],[1610,-1300],[1630,-950],[1670,-1100],[800,-640],[820,-700],[850,-740],[880,-680],[900,-730],[930,-640],[960,-760],[990,-820],[760,-580],[700,-620],[650,-540],[600,-560],[560,-500],[520,-480]
];
const lfBand = [
[30,-5],[50,-20],[60,20],[70,-50],[80,30],[90,-40],[100,10],[110,-80],[120,-20],[130,40],[140,-70],[150,10],[160,-110],[170,-40],[180,50],[190,-90],[200,-10],[210,-140],[220,60],[230,-60],[240,-170],[250,30],[260,-100],[270,-20],[280,-210],[290,90],[300,-70],[310,-150],[320,20],[330,-250],[340,-90],[350,110],[360,-180],[370,-30],[380,-280],[390,60],[400,-120],[410,-220],[420,10],[430,-330],[440,-60],[450,120],[460,-170],[470,-260],[480,40],[490,-370],[500,-110],[510,-30],[520,-210],[530,-300],[540,80],[550,-130],[560,-400],[570,-40],[580,-240],[590,-320],[600,30],[610,-160],[620,-90],[630,-420],[640,-260],[650,50],[660,-190],[670,-340],[680,-20],[690,-120],[700,-280],[710,-450],[720,0],[730,-210],[740,-360],[750,-90],[760,-160],[770,-300],[780,-30],[790,-410],[800,-240],[810,-120],[820,-340],[830,20],[840,-190],[850,-70],[860,-280],[870,-380],[880,-140],[890,-30],[900,-240],[910,-320],[920,-100],[930,-190],[940,-30],[950,-270],[970,-130],[990,-220],
[40,-30],[75,5],[95,-60],[115,30],[135,-100],[155,-30],[175,-130],[195,40],[215,-50],[235,-110],[255,80],[275,-150],[295,-30],[315,-190],[335,70],[355,-60],[375,-230],[395,-30],[415,-140],[435,90],[455,-300],[475,-90],[495,-200],[515,70],[535,-50],[555,-240],[575,-340],[595,-120],[615,-270],[635,10],[655,-380],[675,-130],[695,-60],[715,-180],[735,-290],[755,-20],[775,-200],[795,-90],[815,-260],[835,-150],[855,-360],[875,-50],[895,-190],[250,-220],[300,-270],[350,-320],[400,-360],[450,-400],[500,-440],[550,-460],[600,-470],[650,-480],[700,-500],[750,-520],[800,-500],[850,-530],[900,-560],[950,-540]
];
const hfPoints = [
[1170,1055],[1370,1040],[710,750],[570,595],[280,450],[310,430],[570,445],[630,445],[760,435],[480,410],[1160,360],[660,345],[820,305],[280,315],[350,330],[200,300],[640,265],[1470,270],[1490,260],[2050,280],[1820,225],[1920,200],[2000,215],[1550,170],[1230,205],[1080,210],[990,200],[620,190],[560,190],[740,140],[890,125],[1080,110],[840,110],[810,80],[1250,30],[1280,10],[1230,-30],[1960,15],[1000,80],[440,200],[510,150],[590,95],[410,130],[360,115],[680,70],
[250,-210],[280,-280],[320,-340],[360,-300],[400,-370],[440,-420],[480,-490],[520,-420],[560,-500],[590,-560],[530,-810],[550,-670],[480,-480],[450,-550],[490,-530],[570,-740],[600,-670],[620,-640],[640,-750],[650,-520],[680,-600],[700,-710],[720,-480],[750,-690],[770,-590],[790,-800],[810,-540],[830,-710],[850,-450],[860,-570],[880,-770],[900,-640],[920,-500],[940,-700],[960,-420],[980,-600],[1000,-710],[1020,-480],[1040,-680],[1060,-570],[1080,-400],[1100,-670],[1120,-740],[1140,-460],[1160,-620],[1180,-360],[1200,-540],[1220,-690],[1240,-810],[1260,-440],[1280,-600],[1300,-720],[1320,-350],[1340,-500],[1360,-830],[1380,-640],[1400,-300],[1420,-450],[1440,-610],[1460,-760],[1480,-220],[1500,-520],[1520,-860],[1540,-680],[1560,-390],[1580,-300],[1620,-660],[1650,-310],[1680,-300],[1700,-570],[1750,-590],[1780,-510],[1810,-640],[1800,-780],[1870,-450],[1920,-340],[1950,-360],[1990,-200],[2000,-350],[2020,-400],[2050,-410],[2080,-420],[2100,-410],[2120,-430],[2280,-420],[2260,-490],[2260,-650],[2470,-590],[2220,-830],[2280,-840],[2060,-850],[1980,-850],[1450,-1060],
[760,-880],[790,-860],[810,-980],[840,-930],[860,-880],[920,-880],[940,-1060],[960,-1140],[980,-1150],[1080,-920],[1110,-1010],[1130,-1200],[1160,-1310],[1200,-1000],[1230,-980],[1270,-1250],[1300,-1100],[1330,-1180],[1360,-850],[1410,-1000],[1440,-1300],[1470,-1360],[1520,-1150],[1460,-1150],[1500,-1380],[1560,-900],[1600,-1040],[1620,-1140],[1600,-880],[1650,-1010],[1710,-1330],[1810,-1140],[1800,-1000],[1950,-1020],[1940,-1080],[2000,-1080],[2000,-1460],[2230,-1530],[2530,-1150],[2600,-1130],[2610,-1200],[2950,-1280],[3200,-1280],[1170,-1510],[1090,-1570],[1270,-1640],[1270,-1590],[1350,-1490],[930,-1640],[1680,-1080],
[850,-150],[870,-220],[900,-290],[930,-170],[960,-120],[1000,-280],[1030,-100],[1060,-230],[1090,-120],[1120,-350],[1150,-90],[1180,-200],[1210,-310],[1240,-140],[1270,-260],[1300,-180],[1330,-90],[1370,-220],[1430,-120],[1470,-200],[1510,-290],[1540,-130]
];
const hfBand = [
[20,0],[25,-20],[30,40],[35,15],[40,-30],[45,50],[50,-10],[55,70],[60,-45],[65,25],[70,-60],[75,90],[80,5],[85,-80],[90,55],[95,-25],[100,120],[105,-95],[110,20],[115,75],[120,-55],[125,140],[130,-10],[135,-110],[140,50],[145,160],[150,-70],[155,95],[160,10],[165,-130],[170,180],[175,-40],[180,60],[185,-150],[190,125],[195,-85],[200,200],[205,20],[210,-170],[215,80],[220,-50],[225,230],[230,-120],[235,140],[240,-10],[245,-190],[250,60],[255,250],[260,-90],[265,-220],[270,175],[275,10],[280,-140],[285,100],[290,-250],[295,-50],[300,210],[305,40],[310,-180],[315,-280],[320,120],[325,-90],[330,-20],[335,-220],[340,170],[345,50],[350,-310],[355,-130],[360,70],[365,-250],[370,-40],[375,130],[380,-180],[385,-330],[390,10],[395,-100],[400,90],[405,-280],[410,-30],[415,-200],[420,40],[425,-130],[430,-340],[435,-70],[440,110],[445,-240],[450,0],[455,-170],[460,-370],[465,60],[470,-110],[475,-290],[480,-30],[485,-200],[490,-400],[495,20],[500,-140],[510,-310],[520,-60],[530,-230],[540,-380],[550,40],[560,-160],[570,-300],[580,-90],[590,-220],[600,-420],[610,0],[620,-310],[630,-140],[640,-240],[650,-50],[660,-380],[670,-180],[680,-290],[690,-100],[700,-210],[710,-340],[720,-30],[730,-160],[740,-270],[750,-380],[760,-90],[770,-200],[780,-300],[790,-130],[800,-240],[810,-350],[820,-60],[830,-180],[840,-270],[850,-100],
[150,-190],[170,-210],[190,-230],[210,-250],[230,-280],[250,-300],[270,-320],[290,-350],[310,-380],[330,-400],[350,-420],[370,-430],[390,-450],[410,-470],[430,-480],[460,-500],[500,-470],[540,-520],[580,-480],[620,-500],[660,-470],[700,-540],[740,-500],[780,-480],[820,-440]
];
const lfhfPoints = [
[2.52,2.67],[3.55,2.65],[4.13,2.68],[3.2,2.48],[3.98,2.37],[2.85,2.27],[2.87,2.23],[3.13,2.2],[3.1,2.15],[3.45,2.27],[3.3,2.1],[4.05,2.08],[1.83,2.05],[1.3,1.85],[2.68,2],[2.72,1.88],[3.1,1.9],[3.15,1.88],[3.1,1.82],[2.18,1.8],[2.1,1.72],[2.48,1.78],[2.62,1.75],[2.85,1.78],[4.22,1.85],[4.4,1.85],[3.85,1.72],[3.9,1.65],[3.8,1.52],[5.52,1.53],[2.2,1.52],[1.95,1.47],[2.4,1.47],[2.95,1.5],[2.85,1.45],[2.75,1.55],[1.7,1.35],[1.62,1.28],[1.55,1.2],[2.0,1.3],[2.2,1.27],[4.3,1.22],[2.9,1.22],[3.3,1.18],[3.4,1.18],[3.9,1.12],[1.5,1.12],[1.65,1.08],[1.75,1.05],[2.5,1.15],[2.35,1.1],[2.45,1.05],[1.6,.95],[1.3,.92],[.82,.9],[.95,.8],[.8,.8],[1.1,.75],[1.75,.9],[1.95,.95],[2.2,.9],[2.9,1.05],[3.05,.95],[2.95,.8],[4.05,.82],[4.2,.82],[2.1,.75],[2.4,.72],[2.55,.7],[1.35,.75],[1.55,.7],[.55,.67],[3.6,.65],[3.8,.6],[3.9,.55],[3.3,.55],[4.5,.53],[5.4,.53],[3.2,.5],[3.25,.45],[3.55,.45],[2.85,.5],[2.7,.45],[1.2,.5],[1.4,.45],[1.6,.5],[1.85,.6],[2.15,.55],[.95,.45],[.8,.43],[2.35,.4],[3.3,.25],[3.65,.15],[3.85,.1],[3.55,.2],[2.7,.2],[2.2,.25],[2.85,.05],[4.15,-.03],[4.3,-.03],[3.45,-.02],[6.05,-.15],[2.5,-.05],[2.95,-.15],[3.2,-.1],[3.75,-.2],[3.95,-.2],[4.3,-.4],[4.65,-.37],[3.6,-.35],[3.55,-.4],[5.2,-.53],[4.55,-.6],[3.4,-.5],[3.2,-.6],[2.9,-.7],[3,-.6],[2.65,-.55],[2.4,-.45],[2.65,-.35],
[3.68,-.87],[3.95,-.8],[4.1,-.92],[4.15,-1.02],[3.6,-1.1],[4,-1.1],[4.4,-1.13],[3.7,-1.17],[3.35,-1.17],[3.35,-1.3],[4.3,-1.32],[3.4,-1.42],[3.55,-1.42],[3.7,-1.4],[5.65,-1.2],[3.35,-1.55],[3.05,-1.55],[2.9,-1.5],[2.7,-1.55],[2.7,-1.7],[2.9,-1.73],[2.5,-1.6],[4.1,-1.72],[4.15,-1.85],[4.2,-1.92],[4.35,-2.05],[4.55,-2.07],[4.7,-2.07],[4.92,-2.15],[5.05,-2.02],[4.4,-2.3],[5.3,-2.35],[3.3,-2.15],[3.45,-2.15],[3.6,-2.13],[3.65,-2.07],[3.05,-2.62],[3.3,-2.77],[3.5,-2.67],[3.63,-2.53],[2.98,-2.98],[4.45,-3.03],[4.52,-2.82],[2.72,-2.73],[2.37,-2.7],[2.38,-2.77],[2.3,-2.52],[2.4,-2.55],[2.2,-2.35],[2.05,-2.4],[1.98,-2.45],[1.95,-2.3],[1.9,-2.25],[1.7,-2.13],[1.85,-2.05],[1.9,-2.15],[2.2,-2.1],[2.3,-2.1],[2.4,-2.25],[2.55,-2.05],[2.65,-2.2],[2.8,-2.2],[2.5,-1.95],[2.45,-1.85],[2.3,-1.8],[2.15,-1.9],[2.05,-1.95],[1.75,-1.85],[1.85,-1.7],[1.9,-1.55],[2.15,-1.6],[1.3,-1.82],[1.6,-1.6],
[1.1,-1.25],[1.15,-1.1],[1.25,-1.35],[1.3,-1.45],[1.4,-1.3],[1.5,-1.5],[1.45,-1.15],[1.6,-1.35],[1.7,-1.2],[1.8,-1.45],[1.95,-1.3],[2,-1.1],[2.1,-1.4],[2.2,-1.25],[2.3,-1.45],[2.35,-1.1],[2.4,-1.3],[2.6,-1.05],[2.8,-1.05],[2.45,-.9],[2.55,-.8],[2.2,-.9],[2.05,-.8],[1.9,-.95],[.85,-.95],[1,-1],[.95,-.88],[.75,-.78],[.6,-.6],[.55,-.55],[2.25,-.65],[2,-.6],[1.95,-.45],[2.1,-.35],[2.25,-.2],[2.4,-.15],[2.2,.05],[2.1,.15],[1.95,.35],[1.75,.5],[2.05,.45],[1.85,.2]
];
const lfhfBand = [
[.1,-.03],[.1,-.12],[.15,-.2],[.2,0],[.2,-.12],[.25,-.05],[.25,-.2],[.3,.02],[.3,-.25],[.35,-.12],[.35,.05],[.4,-.3],[.4,-.05],[.4,-.18],[.45,.08],[.45,-.1],[.45,-.35],[.5,-.42],[.5,-.22],[.5,.07],[.55,-.05],[.55,-.2],[.55,-.32],[.6,.1],[.6,-.05],[.6,-.3],[.6,-.45],[.65,.02],[.65,-.15],[.65,-.4],[.65,-.25],[.7,.15],[.7,-.05],[.7,-.25],[.7,-.5],[.75,-.12],[.75,.08],[.75,-.4],[.75,-.6],[.8,.2],[.8,0],[.8,-.22],[.8,-.35],[.8,-.55],[.85,.1],[.85,-.1],[.85,-.3],[.85,-.48],[.85,-.7],[.9,.27],[.9,.05],[.9,-.2],[.9,-.4],[.9,-.62],[.9,-.8],[.95,.15],[.95,-.07],[.95,-.3],[.95,-.52],[.95,-.72],[1,.3],[1,.1],[1,-.15],[1,-.35],[1,-.55],[1,-.78],[1.05,.2],[1.05,-.02],[1.05,-.25],[1.05,-.45],[1.05,-.65],[1.05,-.88],[1.1,.3],[1.1,.08],[1.1,-.15],[1.1,-.38],[1.1,-.58],[1.1,-.8],[1.15,.2],[1.15,-.03],[1.15,-.28],[1.15,-.48],[1.15,-.7],[1.15,-.92],[1.2,.3],[1.2,.08],[1.2,-.15],[1.2,-.38],[1.2,-.6],[1.2,-.82],[1.25,.15],[1.25,-.05],[1.25,-.28],[1.25,-.5],[1.25,-.7],[1.25,-.95],[1.3,.25],[1.3,.02],[1.3,-.18],[1.3,-.42],[1.3,-.62],[1.3,-.85],[1.35,.12],[1.35,-.1],[1.35,-.32],[1.35,-.52],[1.35,-.75],[1.35,-1],[1.4,.22],[1.4,-.02],[1.4,-.22],[1.4,-.45],[1.4,-.66],[1.4,-.88],[1.45,.1],[1.45,-.12],[1.45,-.35],[1.45,-.55],[1.45,-.78],[1.5,.2],[1.5,-.05],[1.5,-.28],[1.5,-.48],[1.5,-.7],[1.5,-.92],[1.55,.05],[1.55,-.18],[1.55,-.4],[1.55,-.62],[1.55,-.85],[1.6,.12],[1.6,-.1],[1.6,-.32],[1.6,-.55],[1.6,-.78],[1.65,-.02],[1.65,-.25],[1.65,-.48],[1.65,-.7],[1.65,-.95],[1.7,.08],[1.7,-.15],[1.7,-.38],[1.7,-.62],[1.7,-.85],[1.75,-.08],[1.75,-.3],[1.75,-.55],[1.75,-.8],[1.8,.05],[1.8,-.2],[1.8,-.45],[1.8,-.72],[1.85,-.12],[1.85,-.38],[1.85,-.65],[1.9,-.28],[1.9,-.6],[1.95,-.2],[1.95,-.75],[2,-.35],[2,-.9],[2.05,-.55],[2.1,-.15],[2.1,-.7],[2.15,-.45],[2.2,-.6]
];

const hrXTicks = [40,50,60,70,80,90];
const hrYTicks = [-10,-7.5,-5,-2.5,0,2.5,5,7.5,10];
const avnnXTicks = [800,1000,1200,1400];
const avnnYTicks = [-100,-50,0,50,100,150];
const rmssdXTicks = [25,50,75,100,125,150,175,200];
const rmssdYTicks = [-80,-60,-40,-20,0,20,40];
const sdnnXTicks = [20,40,60,80,100,120,140,160];
const sdnnYTicks = [-80,-60,-40,-20,0,20,40];
const pnn50XTicks = [0,20,40,60,80];
const pnn50YTicks = [-15,-10,-5,0,5,10,15];
const lfXTicks = [0,500,1000,1500,2000,2500,3000];
const lfYTicks = [-2000,-1500,-1000,-500,0,500,1000];
const hfXTicks = [0,500,1000,1500,2000,2500,3000,3500];
const hfYTicks = [-1500,-1000,-500,0,500,1000];
const lfhfXTicks = [0,1,2,3,4,5,6,7];
const lfhfYTicks = [-3,-2,-1,0,1,2];

const titles = ["(a) HR sleep","(b) AVNN sleep","(c) RMSSD sleep","(d) SDNN sleep","(e) PNN50 sleep","(f) LF sleep","(g) HF sleep","(h) LF-HF sleep"];
const meanDiffs = [-0.38,12.36,-18.24,-22.19,-0.81,-464.45,-247.72,-0.26];
const upperLimits = [6.8,109,32.3,28.3,11.6,830,693,1.72];
const lowerLimits = [-7.55,-84,-68.7,-72.6,-13.2,-1760,-1190,-2.24];
const upperLabels = ["6.8","1.1e+02","32","28","12","8.3e+02","6.9e+02","1.7"];
const lowerLabels = ["-7.5","-84","-68","-73","-13","-1.8e+03","-1.2e+03","-2.2"];

// ========== LAYOUT ==========
const pointSets = [
    hrPoints.concat(hrBand), avnnPoints.concat(avnnBand), rmssdPoints.concat(rmssdBand), sdnnPoints.concat(sdnnBand),
    pnn50Points.concat(pnn50Band), lfPoints.concat(lfBand), hfPoints.concat(hfBand), lfhfPoints.concat(lfhfBand)
];
const xTickSets = [hrXTicks,avnnXTicks,rmssdXTicks,sdnnXTicks,pnn50XTicks,lfXTicks,hfXTicks,lfhfXTicks];
const yTickSets = [hrYTicks,avnnYTicks,rmssdYTicks,sdnnYTicks,pnn50YTicks,lfYTicks,hfYTicks,lfhfYTicks];
const xRanges = [[35.25,93.76],[615,1458],[21,210.6],[9,165.4],[-3.7,88.2],[-160,3500],[-150,3693],[-0.24,7.57]];
const yRanges = [[-11.14,10.36],[-132.5,157],[-93.7,57],[-97.6,54],[-19.3,17.8],[-2402,1496],[-1658,1163],[-3.22,2.71]];
const axesLeft = [46,314.5,583,46,314.5,583,46,314.5];
const axesTop = [16,16,16,284,284,284,553,553];
const labelGap = [36,34,28,29,28.5,39,39,23.5];
const yDecimals = [1,0,0,0,0,0,0,0];
const AXES_W = 214, AXES_H = 220;
const TEXT = "#2b2b2b", FONT = "'DejaVu Sans', sans-serif";

const minus = s => String(s).replace("-", "\u2212");

// frame and the text notes inside the axes
const notesPlugin = {
    id: "notes",
    afterDraw(chart, args, opts) {
        const { ctx, chartArea: a, scales } = chart;
        ctx.save();
        ctx.strokeStyle = "#666";
        ctx.lineWidth = 1;
        ctx.strokeRect(a.left, a.top, a.right - a.left, a.bottom - a.top);
        ctx.fillStyle = TEXT;
        ctx.font = "8.7px " + FONT;
        ctx.textAlign = "right";
        ctx.textBaseline = "middle";
        const rx = a.right - 2;
        const my = scales.y.getPixelForValue(opts.mean);
        ctx.fillText("+1.96 SD: " + opts.up, rx, a.top + 15);
        ctx.fillText("mean diff:", rx, my - 5.5);
        ctx.fillText(opts.mean.toFixed(2), rx, my + 5);
        ctx.fillText("-1.96 SD: " + opts.low, rx, a.bottom - 20);
        ctx.restore();
    }
};

function drawPanel(i) {
    const yw = labelGap[i] + 5.5;
    const canvas = document.createElement("canvas");
    canvas.width = yw + AXES_W + 3;
    canvas.height = 16 + AXES_H + 24;
    canvas.style.left = (axesLeft[i] - yw) + "px";
    canvas.style.top = (axesTop[i] - 16) + "px";
    document.getElementById("wrap").appendChild(canvas);

    const [xMin, xMax] = xRanges[i];
    const [yMin, yMax] = yRanges[i];
    const hline = (v, dash, color) => ({
        type: "line",
        data: [{ x: xMin, y: v }, { x: xMax, y: v }],
        borderColor: color,
        borderWidth: 1,
        borderDash: dash,
        pointRadius: 0,
        order: 0
    });

    new Chart(canvas.getContext("2d"), {
        type: "scatter",
        data: {
            datasets: [
                {
                    data: pointSets[i].map(p => ({ x: p[0], y: p[1] })),
                    backgroundColor: "#1f77b4",
                    borderWidth: 0,
                    pointRadius: 2.4,
                    order: 1
                },
                hline(meanDiffs[i], [], "#8a8a8a"),
                hline(upperLimits[i], [2, 1], "#999"),
                hline(lowerLimits[i], [2, 1], "#999")
            ]
        },
        options: {
            responsive: false,
            animation: false,
            layout: { padding: { right: 3 } },
            plugins: {
                legend: { display: false },
                tooltip: { enabled: false },
                title: {
                    display: true,
                    text: titles[i],
                    color: TEXT,
                    fullSize: false,
                    font: { family: FONT, size: 12.8, weight: "normal", lineHeight: 1 },
                    padding: { top: 2.7, bottom: 0.5 }
                },
                notes: { mean: meanDiffs[i], up: upperLabels[i], low: lowerLabels[i] }
            },
            scales: {
                x: {
                    type: "linear",
                    min: xMin,
                    max: xMax,
                    afterFit: s => { s.height = 24; },
                    afterBuildTicks: s => { s.ticks = xTickSets[i].map(v => ({ value: v })); },
                    grid: { color: "#b8b8b8", z: 1, tickLength: 3.5, tickColor: "#555" },
                    border: { display: false },
                    ticks: { color: TEXT, font: { family: FONT, size: 8.6 }, padding: 1, maxRotation: 0, autoSkip: false, callback: v => minus(v) },
                    title: { display: true, text: "Means", color: TEXT, font: { family: FONT, size: 9.6 }, padding: 0 }
                },
                y: {
                    type: "linear",
                    min: yMin,
                    max: yMax,
                    afterFit: s => { s.width = yw; },
                    afterBuildTicks: s => { s.ticks = yTickSets[i].map(v => ({ value: v })); },
                    grid: { color: "#b8b8b8", z: 1, tickLength: 3.5, tickColor: "#555" },
                    border: { display: false },
                    ticks: { color: TEXT, font: { family: FONT, size: 8.6 }, padding: 2, autoSkip: false, callback: v => minus(v.toFixed(yDecimals[i])) },
                    title: { display: true, text: "Difference", color: TEXT, font: { family: FONT, size: 9.6 }, padding: 0 }
                }
            }
        },
        plugins: [notesPlugin]
    });
}

titles.forEach((t, i) => drawPanel(i));
</script>
</body>
</html>
